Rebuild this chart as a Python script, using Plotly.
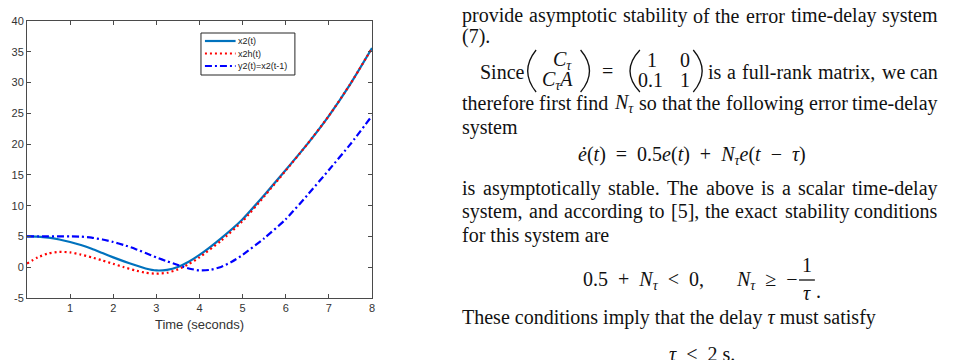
import plotly.graph_objects as go

# ---------------- data ----------------
t = [0.0, 0.25, 0.5, 0.75, 1.0, 1.25, 1.5, 1.75, 2.0, 2.25, 2.5, 2.75, 3.0, 3.25,
     3.5, 3.75, 4.0, 4.5, 5.0, 5.5, 6.0, 6.5, 7.0, 7.5, 8.0]
x2 = [5.0, 4.97, 4.8, 4.5, 4.1, 3.6, 3.0, 2.3, 1.6, 0.95, 0.35, -0.2, -0.52, -0.42,
      0.05, 0.9, 2.0, 4.7, 7.8, 11.7, 15.8, 20.0, 24.6, 29.8, 35.6]
x2h = [0.6, 1.6, 2.25, 2.5, 2.4, 2.05, 1.6, 1.1, 0.55, 0.0, -0.5, -0.9, -1.05, -0.9,
       -0.35, 0.5, 1.6, 4.3, 7.5, 11.5, 15.7, 20.0, 24.6, 29.8, 35.6]
t_y2 = [0.0, 0.25, 0.5, 0.75, 1.0, 1.25, 1.5, 1.75, 2.0, 2.25, 2.5, 2.75, 3.0, 3.25,
        3.5, 3.75, 4.0, 4.25, 4.5, 4.75, 5.0, 5.5, 6.0, 6.5, 7.0, 7.5, 8.0]
y2 = [5.0, 5.0, 5.0, 5.0, 5.0, 4.97, 4.8, 4.5, 4.1, 3.6, 3.0, 2.3, 1.6, 0.95,
      0.35, -0.2, -0.52, -0.42, 0.05, 0.9, 2.0, 4.7, 7.8, 11.7, 15.8, 20.0, 24.6]
series_names = ["x2(t)", "x2h(t)", "y2(t)=x2(t-1)"]
x_ticks = [1, 2, 3, 4, 5, 6, 7, 8]
y_ticks = [-5, 0, 5, 10, 15, 20, 25, 30, 35, 40]
x_title = "Time (seconds)"

# ---------------- geometry ----------------
W, H = 973, 360
L, R, T, B = 23, 372, 21, 298


def px(x):
    return (x - L) / (R - L)


def py(y):
    return (B - y) / (B - T)


styles = [
    dict(color="#0072BD", width=2.2),
    dict(color="#FF0000", width=2.2, dash="2px,3px"),
    dict(color="#0000FF", width=2.2, dash="7px,3px,2px,3px"),
]

fig = go.Figure()
fig.add_trace(go.Scatter(x=t, y=x2, mode="lines", name=series_names[0],
                         line=dict(shape="spline", smoothing=0.6, **styles[0])))
fig.add_trace(go.Scatter(x=t, y=x2h, mode="lines", name=series_names[1],
                         line=dict(shape="spline", smoothing=0.6, **styles[1])))
fig.add_trace(go.Scatter(x=t_y2, y=y2, mode="lines", name=series_names[2],
                         line=dict(shape="spline", smoothing=0.6, **styles[2])))

axcol = "#4a4a4a"
tickfont = dict(family="Liberation Sans, Arial", size=11, color="#333333")
fig.update_layout(
    width=W, height=H,
    margin=dict(l=L, r=W - R, t=T, b=H - B),
    paper_bgcolor="white", plot_bgcolor="white",
    showlegend=False,
    xaxis=dict(range=[0, 8], tickvals=x_ticks, ticktext=[str(v) for v in x_ticks],
               ticks="inside", ticklen=4,
               tickcolor=axcol, showline=True, linecolor=axcol, linewidth=1,
               mirror="ticks", showgrid=False, zeroline=False, tickfont=tickfont,
               title=dict(text=x_title, standoff=6,
                          font=dict(family="Liberation Sans, Arial", size=13,
                                    color="#333333"))),
    yaxis=dict(range=[-5, 40], tickvals=y_ticks, ticktext=[str(v) for v in y_ticks],
               ticks="inside", ticklen=4,
               tickcolor=axcol, showline=True, linecolor=axcol, linewidth=1,
               mirror="ticks", showgrid=False, zeroline=False, tickfont=tickfont),
)

shapes = []
annots = []

# ---------------- legend (MATLAB style box) ----------------
shapes.append(dict(type="rect", xref="paper", yref="paper",
                   x0=px(199), x1=px(294), y0=py(75), y1=py(33),
                   line=dict(color="#262626", width=1), fillcolor="white"))
leg_y = [41, 53.5, 66]
for name, st, yy in zip(series_names, styles, leg_y):
    ln = dict(color=st["color"], width=st["width"])
    if "dash" in st:
        ln["dash"] = st["dash"]
    shapes.append(dict(type="line", xref="paper", yref="paper",
                       x0=px(203), x1=px(234), y0=py(yy), y1=py(yy), line=ln))
    annots.append(dict(x=px(236), y=py(yy), xref="paper", yref="paper",
                       text=name, showarrow=False, xanchor="left", yanchor="middle",
                       borderpad=0, borderwidth=0,
                       font=dict(family="Liberation Sans, Arial", size=9,
                                 color="#222222")))

# ---------------- paper text on the right ----------------
FS = 20
SERIF = "Liberation Serif, Times New Roman"
TXT = "#111111"
TW = {' ': 250, '(': 333, ')': 333, ',': 250, '-': 333, '.': 250, '[': 333, ']': 333,
      'a': 444, 'b': 500, 'c': 444, 'd': 500, 'e': 444, 'f': 333, 'g': 500, 'h': 500,
      'i': 278, 'j': 278, 'k': 500, 'l': 278, 'm': 778, 'n': 500, 'o': 500, 'p': 500,
      'q': 500, 'r': 333, 's': 389, 't': 278, 'u': 500, 'v': 500, 'w': 722, 'x': 500,
      'y': 500, 'z': 444, 'T': 611, 'S': 556, 'N': 667}


def tw(s):
    return sum(TW.get(c, 500) for c in s) / 1000.0 * FS * 1.013


def text(x, y, s, anchor="left", size=FS):
    annots.append(dict(x=px(x), y=py(y), xref="paper", yref="paper", text=s,
                       showarrow=False, xanchor=anchor, yanchor="middle",
                       borderpad=0, borderwidth=0,
                       font=dict(family=SERIF, size=size, color=TXT)))


NTAU = "<i>N</i><sub><i>τ</i></sub>"
SP = "&nbsp;"


def justify(words, x0, x1, y):
    widths = []
    for w in words:
        if w == NTAU:
            widths.append((0.667 + 0.35) * FS)
        else:
            widths.append(tw(w))
    n = len(words)
    gap = (x1 - x0 - sum(widths)) / (n - 1)
    half = (n + 1) // 2
    # first half anchored from the left edge
    x = x0
    for i in range(half):
        text(x, y, words[i])
        x += widths[i] + gap
    # second half anchored from the right edge
    x = x1
    for i in range(n - 1, half - 1, -1):
        text(x, y, words[i], anchor="right")
        x -= widths[i] + gap


X0, X1 = 463, 945
justify("provide asymptotic stability of the error time-delay system".split(), X0, X1, 16)
text(X0, 36, "(7).")
text(481, 72, "Since")
# matrices
text(565, 60, "<i>C</i><sub><i>τ</i></sub>", anchor="center")
text(560, 80, "<i>C</i><sub><i>τ</i></sub><i>A</i>", anchor="center")
text(610, 71, "=", anchor="center")
text(655, 60, "1", anchor="center")
text(689, 60, "0", anchor="center")
text(654, 80, "0.1", anchor="center")
text(689, 80, "1", anchor="center")
for (e, c) in [(538, 521), (583, 601), (643, 623), (697, 715)]:
    shapes.append(dict(type="path", xref="paper", yref="paper",
                       path=f"M {px(e)},{py(50)} Q {px(c)},{py(71)} {px(e)},{py(92)}",
                       line=dict(color=TXT, width=1.3)))
justify("is a full-rank matrix, we can".split(), 712, X1, 72)
justify(["therefore", "first", "find", NTAU, "so", "that", "the", "following",
         "error", "time-delay"], X0, X1, 103)
text(X0, 127, "system")
text(696, 155, "<i>ė</i>(<i>t</i>)" + SP + " = " + SP + "0.5<i>e</i>(<i>t</i>)" + SP +
     " + " + SP + NTAU + "<i>e</i>(<i>t</i>" + SP + " − " + SP + "<i>τ</i>)",
     anchor="center")
justify("is asymptotically stable. The above is a scalar time-delay".split(), X0, X1, 188)
justify("system, and according to [5], the exact stability conditions".split(), X0, X1, 211)
text(X0, 235, "for this system are")
text(585, 280, "0.5" + SP + " + " + SP + NTAU + SP + " &lt; " + SP + "0,")
text(740, 280, NTAU + SP + " ≥ " + SP + "−")
text(812, 265, "1", anchor="center")
shapes.append(dict(type="line", xref="paper", yref="paper", x0=px(804), x1=px(820),
                   y0=py(280), y1=py(280), line=dict(color=TXT, width=1.3)))
text(812, 293, "<i>τ</i>", anchor="center")
text(821, 291, ".")
text(X0, 317, "These conditions imply that the delay <i>τ</i> must satisfy")
text(706, 354, "<i>τ</i> " + SP + "&lt; " + SP + "2 s.", anchor="center")

fig.update_layout(shapes=shapes, annotations=annots)
fig.write_html("out.html")
